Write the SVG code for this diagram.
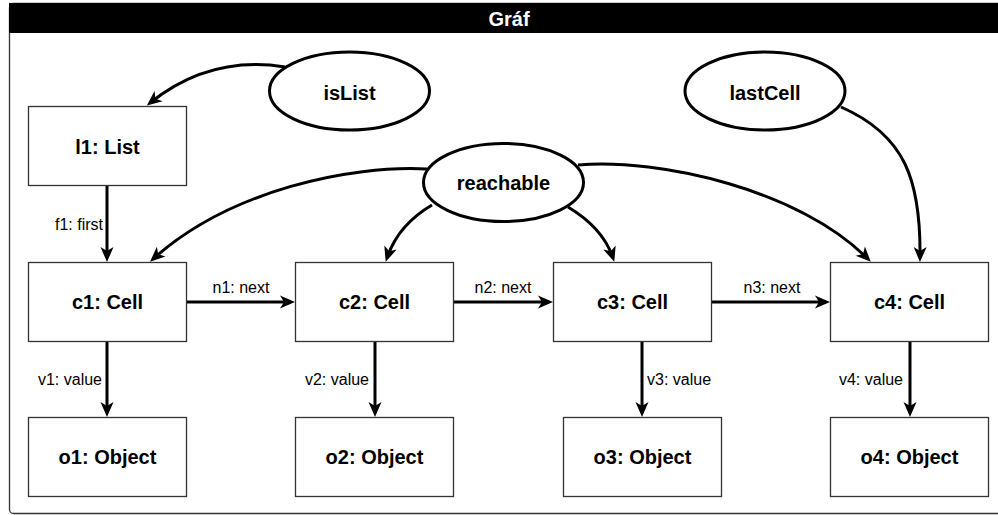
<svg xmlns="http://www.w3.org/2000/svg" width="998" height="515" viewBox="0 0 998 515">
  <style>
    .box { fill: #ffffff; stroke: #333333; stroke-width: 1.3; }
    .oval { fill: #ffffff; stroke: #000000; stroke-width: 3; }
    .lbl { font-family: "Liberation Sans", Arial, sans-serif; font-size: 20px; font-weight: bold; fill: #000000; text-anchor: middle; }
    .elbl { font-family: "Liberation Sans", Arial, sans-serif; font-size: 16px; fill: #000000; }
    .edge { fill: none; stroke: #000000; stroke-width: 3; marker-end: url(#arrow); }
    .title { font-family: "Liberation Sans", Arial, sans-serif; font-size: 20px; font-weight: bold; fill: #ffffff; text-anchor: middle; }
  </style>
  <defs>
    <marker id="arrow" markerUnits="userSpaceOnUse" markerWidth="20" markerHeight="20" refX="-4" refY="0" orient="auto" overflow="visible">
      <path d="M0,0 L-15,-6.5 L-11,0 L-15,6.5 Z" fill="#000000"/>
    </marker>
  </defs>

  <rect width="998" height="515" fill="#ffffff"/>

  <!-- outer frame with title bar -->
  <g id="frame">
    <rect x="9.5" y="3.5" width="1000" height="510" rx="4" fill="#ffffff" stroke="#333333" stroke-width="1.3"/>
    <rect x="9" y="3" width="1000" height="30" fill="#000000"/>
    <text class="title" x="509" y="26">Gráf</text>
  </g>

  <!-- connectors -->
  <g id="connectors">
    <path class="edge" d="M285,67 Q210,55 150,103"/>
    <path class="edge" d="M107,186 L107,258"/>
    <path class="edge" d="M187,302 L291,302"/>
    <path class="edge" d="M454,302 L549,302"/>
    <path class="edge" d="M711,302 L826,302"/>
    <path class="edge" d="M107,341 L107,413"/>
    <path class="edge" d="M375,341 L375,413"/>
    <path class="edge" d="M642,341 L642,413"/>
    <path class="edge" d="M910,341 L910,413"/>
    <path class="edge" d="M427,169 C350,165 230,190 153,259"/>
    <path class="edge" d="M432,205 Q398,225 387,258"/>
    <path class="edge" d="M568,207 Q603,228 613,258"/>
    <path class="edge" d="M578,165 C660,158 800,190 868,259"/>
    <path class="edge" d="M841,107 C905,135 921,180 920,258"/>
    <text class="elbl" x="103" y="230" text-anchor="end">f1: first</text>
    <text class="elbl" x="241" y="293" text-anchor="middle">n1: next</text>
    <text class="elbl" x="503" y="293" text-anchor="middle">n2: next</text>
    <text class="elbl" x="772" y="293" text-anchor="middle">n3: next</text>
    <text class="elbl" x="102" y="385" text-anchor="end">v1: value</text>
    <text class="elbl" x="369" y="385" text-anchor="end">v2: value</text>
    <text class="elbl" x="647" y="385" text-anchor="start">v3: value</text>
    <text class="elbl" x="903" y="385" text-anchor="end">v4: value</text>
  </g>

  <!-- nodes -->
  <g id="isList">
    <ellipse class="oval" cx="349.5" cy="91" rx="80" ry="39"/>
    <text class="lbl" x="349.5" y="100">isList</text>
  </g>
  <g id="lastCell">
    <ellipse class="oval" cx="765" cy="91" rx="80" ry="39"/>
    <text class="lbl" x="765" y="100">lastCell</text>
  </g>
  <g id="reachable">
    <ellipse class="oval" cx="503.5" cy="182.5" rx="80" ry="39"/>
    <text class="lbl" x="503.5" y="190">reachable</text>
  </g>
  <g id="l1">
    <rect class="box" x="28.5" y="106.5" width="158" height="79"/>
    <text class="lbl" x="107.5" y="154">l1: List</text>
  </g>
  <g id="c1">
    <rect class="box" x="28.5" y="262.5" width="158" height="79"/>
    <text class="lbl" x="107.5" y="309">c1: Cell</text>
  </g>
  <g id="c2">
    <rect class="box" x="295.5" y="262.5" width="158" height="79"/>
    <text class="lbl" x="374.5" y="309">c2: Cell</text>
  </g>
  <g id="c3">
    <rect class="box" x="553.5" y="262.5" width="158" height="79"/>
    <text class="lbl" x="632.5" y="309">c3: Cell</text>
  </g>
  <g id="c4">
    <rect class="box" x="830.5" y="262.5" width="158" height="79"/>
    <text class="lbl" x="909.5" y="309">c4: Cell</text>
  </g>
  <g id="o1">
    <rect class="box" x="28.5" y="417.5" width="158" height="79"/>
    <text class="lbl" x="107.5" y="464">o1: Object</text>
  </g>
  <g id="o2">
    <rect class="box" x="295.5" y="417.5" width="158" height="79"/>
    <text class="lbl" x="374.5" y="464">o2: Object</text>
  </g>
  <g id="o3">
    <rect class="box" x="563.5" y="417.5" width="158" height="79"/>
    <text class="lbl" x="642.5" y="464">o3: Object</text>
  </g>
  <g id="o4">
    <rect class="box" x="830.5" y="417.5" width="158" height="79"/>
    <text class="lbl" x="909.5" y="464">o4: Object</text>
  </g>
</svg>
